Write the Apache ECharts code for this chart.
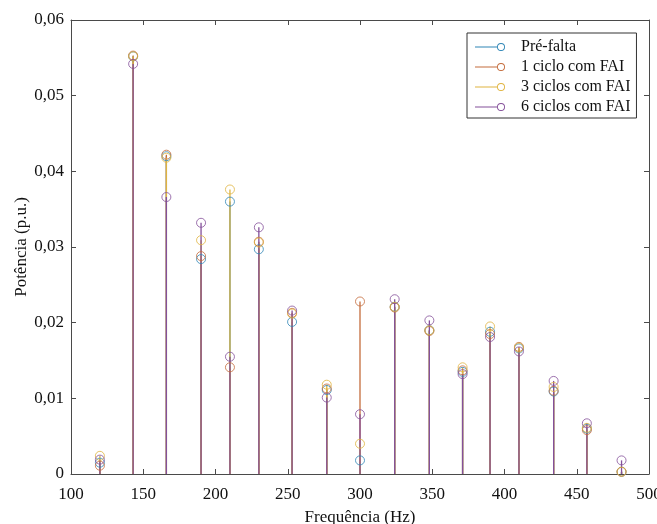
<!DOCTYPE html>
<html>
<head>
<meta charset="utf-8">
<script src="https://cdn.jsdelivr.net/npm/echarts@6/dist/echarts.min.js"></script>
<style>
  html, body { margin: 0; padding: 0; background: #fff; }
  #chart { width: 657px; height: 524px; }
</style>
</head>
<body>
<div id="chart"></div>
<script>
// frequências (Hz) de cada raia
const freqs = [120, 143, 166, 190, 210, 230, 253, 277, 300, 324, 348, 371, 390, 410, 434, 457, 481]

// potência (p.u.) por cenário
const preFalta = [0.0015, 0.0552, 0.0420, 0.0284, 0.0360, 0.0297, 0.0201, 0.0111, 0.0018, 0.0221, 0.0190, 0.0135, 0.0188, 0.0166, 0.0109, 0.0060, 0.0003]
const ciclo1 = [0.0011, 0.0553, 0.0422, 0.0288, 0.0141, 0.0307, 0.0213, 0.0113, 0.0228, 0.0220, 0.0189, 0.0137, 0.0185, 0.0168, 0.0110, 0.0058, 0.0003]
const ciclos3 = [0.0024, 0.0552, 0.0418, 0.0309, 0.0376, 0.0306, 0.0212, 0.0118, 0.0040, 0.0221, 0.0190, 0.0141, 0.0195, 0.0167, 0.0115, 0.0061, 0.0003]
const ciclos6 = [0.0019, 0.0542, 0.0366, 0.0332, 0.0155, 0.0326, 0.0216, 0.0101, 0.0079, 0.0231, 0.0203, 0.0132, 0.0181, 0.0162, 0.0123, 0.0067, 0.0018]

const names = ['Pré-falta', '1 ciclo com FAI', '3 ciclos com FAI', '6 ciclos com FAI']
const values = [preFalta, ciclo1, ciclos3, ciclos6]
const colors = ['#2f86b6', '#c46c3c', '#e0b440', '#84509a']

const xTicks = { min: 100, max: 500, interval: 50 }
const yTicks = { min: 0, max: 0.06, interval: 0.01 }

const fontFamily = '"Liberation Serif", "DejaVu Serif", serif'
const axisColor = '#4a4a4a'

// linha + círculo, como no stem do MATLAB
const stemIcon = 'path://M0,3.6 L22,3.6 L22,4.4 L0,4.4 Z M30,4 A4,4 0 1,0 22,4 A4,4 0 1,0 30,4 Z M29.1,4 A3.1,3.1 0 1,1 22.9,4 A3.1,3.1 0 1,1 29.1,4 Z'

const series = []
names.forEach(function(name, i) {
  const pts = freqs.map(function(f, j) { return [f, values[i][j]] })
  series.push({
    name: name,
    type: 'bar',
    barWidth: 1.3,
    barGap: '-100%',
    itemStyle: { color: colors[i] },
    silent: true,
    data: pts
  })
  series.push({
    name: name,
    type: 'scatter',
    symbol: 'circle',
    symbolSize: 9,
    itemStyle: { color: 'transparent', borderColor: colors[i], borderWidth: 1 },
    silent: true,
    data: pts
  })
})

const chart = echarts.init(document.getElementById('chart'))
chart.setOption({
  backgroundColor: '#fff',
  animation: false,
  grid: { left: 71, right: 8, top: 20, bottom: 50, outerBoundsMode: 'none', containLabel: false },
  legend: {
    orient: 'vertical',
    left: 467,
    top: 33,
    padding: [4, 6, 1, 8],
    itemGap: 0,
    itemWidth: 30,
    itemHeight: 8,
    borderColor: '#333',
    borderWidth: 1,
    backgroundColor: '#fff',
    textStyle: { fontFamily: fontFamily, fontSize: 16, color: '#111', lineHeight: 20, padding: [0, 0, 0, 11] },
    data: names.map(function(n, i) {
      return { name: n, icon: stemIcon, itemStyle: { color: colors[i] } }
    })
  },
  xAxis: [
    {
      type: 'value',
      min: xTicks.min,
      max: xTicks.max,
      interval: xTicks.interval,
      name: 'Frequência (Hz)',
      nameLocation: 'middle',
      nameGap: 35,
      nameTextStyle: { fontFamily: fontFamily, fontSize: 17, color: '#111' },
      axisLine: { show: true, onZero: false, lineStyle: { color: axisColor } },
      axisTick: { show: true, inside: true, length: 5, lineStyle: { color: axisColor } },
      axisLabel: { fontFamily: fontFamily, fontSize: 17, color: '#111', margin: 12, showMinLabel: true, showMaxLabel: true },
      splitLine: { show: false }
    },
    {
      type: 'value',
      position: 'top',
      min: xTicks.min,
      max: xTicks.max,
      interval: xTicks.interval,
      axisLine: { show: true, onZero: false, lineStyle: { color: axisColor } },
      axisTick: { show: true, inside: true, length: 5, lineStyle: { color: axisColor } },
      axisLabel: { show: false },
      splitLine: { show: false }
    }
  ],
  yAxis: [
    {
      type: 'value',
      min: yTicks.min,
      max: yTicks.max,
      interval: yTicks.interval,
      name: 'Potência (p.u.)',
      nameLocation: 'middle',
      nameGap: 41,
      nameMoveOverlap: false,
      nameTextStyle: { fontFamily: fontFamily, fontSize: 17, color: '#111' },
      axisLine: { show: true, onZero: false, lineStyle: { color: axisColor } },
      axisTick: { show: true, inside: true, length: 5, lineStyle: { color: axisColor } },
      axisLabel: {
        fontFamily: fontFamily,
        fontSize: 17,
        color: '#111',
        margin: 7,
        formatter: function(v) {
          return v === 0 ? '0' : v.toFixed(2).replace('.', ',')
        }
      },
      splitLine: { show: false }
    },
    {
      type: 'value',
      position: 'right',
      min: yTicks.min,
      max: yTicks.max,
      interval: yTicks.interval,
      axisLine: { show: true, onZero: false, lineStyle: { color: axisColor } },
      axisTick: { show: true, inside: true, length: 5, lineStyle: { color: axisColor } },
      axisLabel: { show: false },
      splitLine: { show: false }
    }
  ],
  series: series
})
</script>
</body>
</html>
